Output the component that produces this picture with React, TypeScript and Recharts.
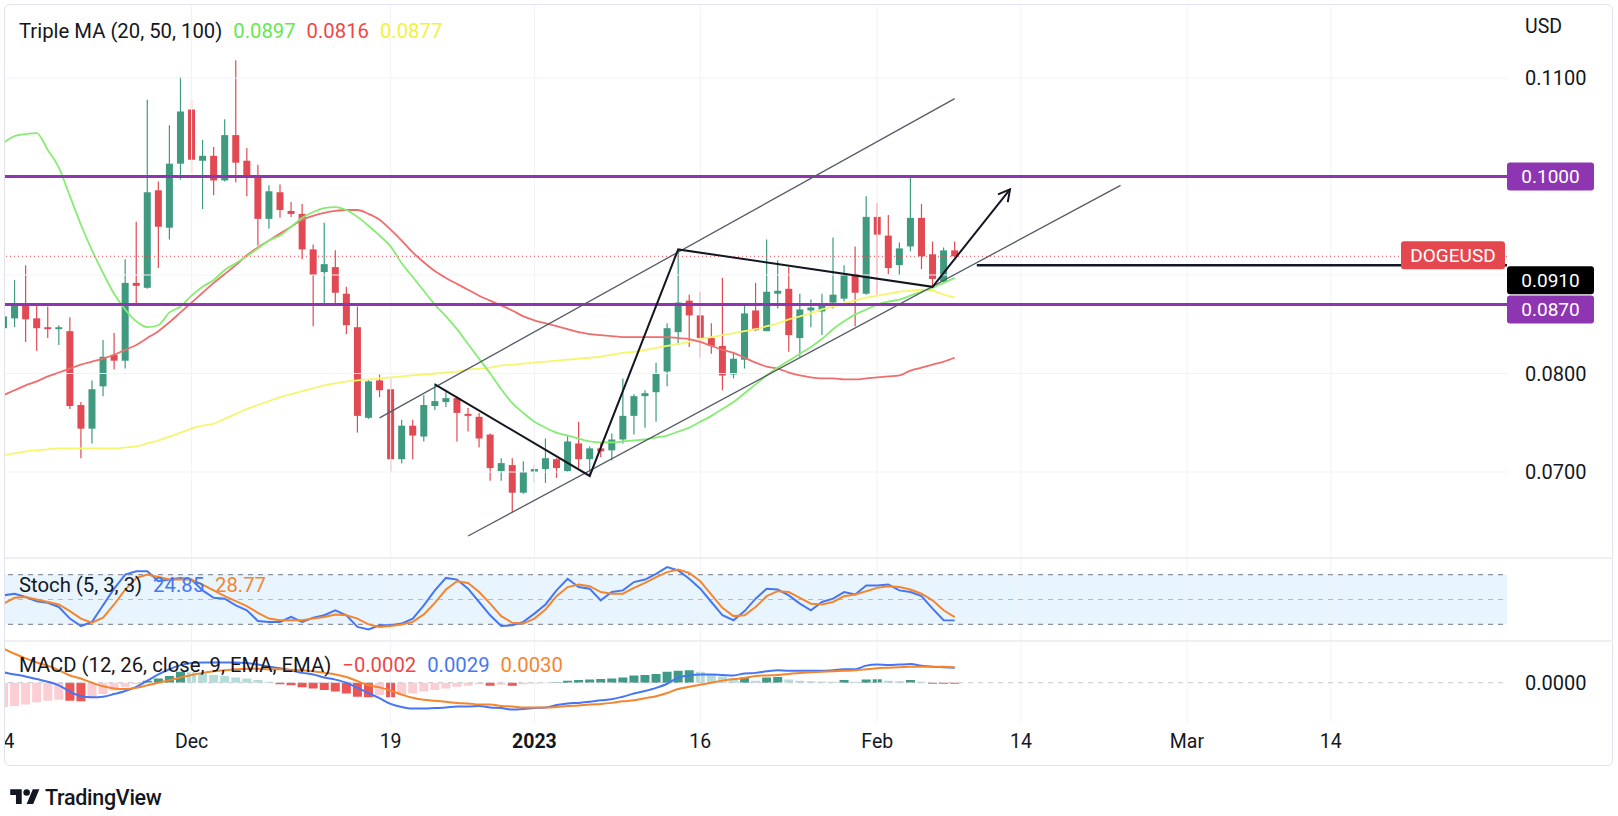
import React from 'react';
import { ComposedChart, Bar, Line, XAxis, YAxis, ReferenceLine, ReferenceArea, Cell } from 'recharts';

const FONT = 'Roboto, "Noto Sans", "DejaVu Sans", sans-serif';

// ---- candles (daily DOGEUSD, day 0 = 14 Nov 2022) ----
const opens = [0.0846,0.0856,0.0870,0.0856,0.0847,0.0845,0.0843,0.0768,0.0744,0.0787,
  0.0819,0.0813,0.0892,0.0887,0.0986,0.0948,0.1013,0.1068,0.1016,0.1021,
  0.0996,0.1042,0.1016,0.1000,0.0957,0.0984,0.0965,0.0962,0.0926,0.0903,
  0.0908,0.0881,0.0847,0.0755,0.0793,0.0784,0.0713,0.0747,0.0736,0.0767,
  0.0771,0.0775,0.0759,0.0756,0.0738,0.0701,0.0707,0.0679,0.0700,0.0703,
  0.0713,0.0701,0.0729,0.0713,0.0724,0.0722,0.0733,0.0757,0.0777,0.0781,
  0.0802,0.0842,0.0874,0.0859,0.0836,0.0828,0.0799,0.0814,0.0864,0.0843,
  0.0881,0.0886,0.0836,0.0864,0.0863,0.0872,0.0876,0.0901,0.0881,0.0959,
  0.0940,0.0910,0.0929,0.0958,0.0921,0.0893,0.0925];
const highs = [0.0866,0.0895,0.0910,0.0870,0.0868,0.0849,0.0857,0.0771,0.0793,0.0834,
  0.0841,0.0916,0.0954,0.1078,0.0995,0.1052,0.1101,0.1078,0.1037,0.1030,
  0.1058,0.1118,0.1029,0.1012,0.0991,0.0992,0.0974,0.0972,0.0931,0.0953,
  0.0925,0.0888,0.0868,0.0794,0.0799,0.0795,0.0753,0.0753,0.0778,0.0790,
  0.0781,0.0777,0.0765,0.0760,0.0739,0.0714,0.0714,0.0711,0.0707,0.0734,
  0.0714,0.0737,0.0751,0.0726,0.0730,0.0739,0.0795,0.0779,0.0783,0.0811,
  0.0851,0.0925,0.0880,0.0883,0.0851,0.0897,0.0822,0.0869,0.0892,0.0936,
  0.0915,0.0908,0.0881,0.0875,0.0881,0.0938,0.0910,0.0929,0.0980,0.0973,
  0.0961,0.0933,0.1001,0.0972,0.0934,0.0928,0.0934];
const lows = [0.0840,0.0847,0.0832,0.0823,0.0836,0.0829,0.0764,0.0714,0.0729,0.0777,
  0.0804,0.0805,0.0870,0.0886,0.0907,0.0936,0.0997,0.1003,0.0967,0.0981,
  0.0995,0.0994,0.0980,0.0930,0.0947,0.0958,0.0959,0.0916,0.0848,0.0870,
  0.0871,0.0840,0.0740,0.0754,0.0776,0.0700,0.0709,0.0713,0.0731,0.0763,
  0.0766,0.0731,0.0741,0.0725,0.0691,0.0691,0.0659,0.0678,0.0689,0.0689,
  0.0694,0.0700,0.0704,0.0695,0.0715,0.0712,0.0729,0.0738,0.0745,0.0751,
  0.0787,0.0829,0.0827,0.0816,0.0820,0.0783,0.0795,0.0805,0.0843,0.0843,
  0.0866,0.0822,0.0817,0.0847,0.0839,0.0866,0.0873,0.0848,0.0880,0.0880,
  0.0901,0.0900,0.0924,0.0906,0.0888,0.0892,0.0918];
const closes = [0.0858,0.0870,0.0855,0.0846,0.0845,0.0847,0.0767,0.0744,0.0784,0.0817,
  0.0813,0.0892,0.0889,0.0984,0.0949,0.1013,0.1066,0.1017,0.1021,0.0996,
  0.1042,0.1014,0.1000,0.0957,0.0985,0.0966,0.0962,0.0926,0.0900,0.0911,
  0.0882,0.0849,0.0757,0.0792,0.0783,0.0713,0.0747,0.0737,0.0768,0.0772,
  0.0775,0.0760,0.0757,0.0734,0.0704,0.0709,0.0679,0.0700,0.0703,0.0714,
  0.0704,0.0731,0.0713,0.0724,0.0721,0.0733,0.0757,0.0777,0.0780,0.0800,
  0.0846,0.0872,0.0859,0.0836,0.0828,0.0798,0.0815,0.0861,0.0844,0.0883,
  0.0884,0.0839,0.0865,0.0867,0.0871,0.0880,0.0900,0.0882,0.0959,0.0941,
  0.0907,0.0927,0.0958,0.0919,0.0896,0.0925,0.0919];

// ---- moving averages ----
const ma20 = [0.1034,0.1041,0.1043,0.1044,0.1027,0.1009,0.0980,0.0951,0.0925,0.0902,
  0.0881,0.0865,0.0853,0.0847,0.0849,0.0862,0.0868,0.0879,0.0888,0.0895,
  0.0905,0.0912,0.0919,0.0927,0.0935,0.0940,0.0949,0.0958,0.0964,0.0968,
  0.0969,0.0966,0.0959,0.0950,0.0940,0.0929,0.0912,0.0898,0.0884,0.0870,
  0.0858,0.0845,0.0830,0.0815,0.0800,0.0784,0.0770,0.0760,0.0751,0.0745,
  0.0740,0.0737,0.0734,0.0731,0.0730,0.0730,0.0731,0.0732,0.0733,0.0735,
  0.0737,0.0741,0.0745,0.0751,0.0757,0.0764,0.0771,0.0780,0.0789,0.0798,
  0.0806,0.0813,0.0820,0.0827,0.0835,0.0845,0.0853,0.0860,0.0865,0.0870,
  0.0873,0.0875,0.0879,0.0883,0.0887,0.0892,0.0897];
const ma50 = [0.0778,0.0783,0.0788,0.0792,0.0797,0.0801,0.0805,0.0809,0.0812,0.0815,
  0.0819,0.0824,0.0829,0.0836,0.0843,0.0852,0.0862,0.0872,0.0882,0.0892,
  0.0901,0.0910,0.0920,0.0928,0.0935,0.0942,0.0949,0.0956,0.0960,0.0963,
  0.0965,0.0966,0.0966,0.0962,0.0956,0.0946,0.0935,0.0923,0.0913,0.0904,
  0.0897,0.0891,0.0885,0.0879,0.0874,0.0869,0.0864,0.0858,0.0854,0.0851,
  0.0848,0.0845,0.0842,0.0840,0.0839,0.0838,0.0837,0.0837,0.0837,0.0837,
  0.0837,0.0836,0.0835,0.0832,0.0828,0.0824,0.0821,0.0816,0.0811,0.0807,
  0.0805,0.0801,0.0798,0.0796,0.0795,0.0795,0.0794,0.0794,0.0795,0.0796,
  0.0797,0.0798,0.0803,0.0806,0.0809,0.0812,0.0816];
const ma100 = [0.0717,0.0719,0.0721,0.0722,0.0723,0.0724,0.0724,0.0724,0.0724,0.0724,
  0.0724,0.0725,0.0726,0.0729,0.0732,0.0736,0.0740,0.0744,0.0747,0.0749,
  0.0754,0.0759,0.0764,0.0768,0.0772,0.0776,0.0779,0.0782,0.0785,0.0788,
  0.0790,0.0792,0.0793,0.0794,0.0795,0.0796,0.0797,0.0798,0.0799,0.0800,
  0.0801,0.0802,0.0804,0.0805,0.0806,0.0808,0.0809,0.0810,0.0811,0.0812,
  0.0813,0.0814,0.0815,0.0816,0.0817,0.0819,0.0821,0.0822,0.0824,0.0826,
  0.0828,0.0830,0.0832,0.0835,0.0837,0.0839,0.0841,0.0843,0.0845,0.0848,
  0.0851,0.0855,0.0858,0.0861,0.0865,0.0868,0.0871,0.0874,0.0877,0.0879,
  0.0881,0.0883,0.0884,0.0885,0.0884,0.0880,0.0877];

// ---- stochastic ----
const stochK = [55,57,53,48,46,41,27,18,23,43, 63,80,84,84,72,74,76,74,61,52,
  51,43,37,24,23,23,29,23,28,31, 37,31,17,14,19,19,21,27,43,61,
  76,74,63,47,31,18,19,23,33,44, 61,75,65,63,49,59,61,71,74,81,
  89,85,75,63,47,31,25,36,51,63, 62,55,45,37,47,51,59,56,67,67,
  68,61,59,54,39,25,24.85];
const stochD = [45,52,53,50,47,44,36,27,22,28, 44,62,76,80,77,74,74,74,68,61,
  54,48,42,34,27,25,25,25,27,29, 32,31,27,20,17,18,20,23,32,46,
  62,72,70,59,45,30,22,21,27,38, 54,65,68,66,59,57,57,64,70,77,
  83,86,82,72,56,40,30,31,41,54, 60,59,52,45,44,47,54,56,60,64,
  66,65,62,57,49,37,28.77];

// ---- MACD ----
const macdLine = [0.0020,0.0016,0.0012,0.0007,0.0002,-0.0005,-0.0017,-0.0026,-0.0028,-0.0027,
  -0.0022,-0.0016,-0.0008,0.0004,0.0016,0.0026,0.0034,0.0038,0.0039,0.0039,
  0.0039,0.0039,0.0038,0.0035,0.0031,0.0028,0.0024,0.0019,0.0016,0.0010,
  0.0006,0.0000,-0.0010,-0.0020,-0.0030,-0.0041,-0.0047,-0.0050,-0.0050,-0.0049,
  -0.0048,-0.0046,-0.0046,-0.0045,-0.0048,-0.0049,-0.0052,-0.0051,-0.0049,-0.0048,
  -0.0043,-0.0040,-0.0039,-0.0037,-0.0034,-0.0032,-0.0027,-0.0021,-0.0016,-0.0010,
  -0.0002,0.0010,0.0014,0.0016,0.0016,0.0015,0.0014,0.0018,0.0019,0.0022,
  0.0024,0.0023,0.0023,0.0023,0.0023,0.0024,0.0026,0.0026,0.0033,0.0035,
  0.0034,0.0035,0.0036,0.0033,0.0031,0.0030,0.0029];
const signalLine = [0.0066,0.0056,0.0047,0.0039,0.0033,0.0024,0.0014,0.0008,0.0000,-0.0007,
  -0.0011,-0.0012,-0.0010,-0.0005,0.0000,0.0005,0.0010,0.0015,0.0019,0.0022,
  0.0024,0.0026,0.0027,0.0027,0.0026,0.0026,0.0025,0.0024,0.0022,0.0019,
  0.0016,0.0011,0.0003,-0.0005,-0.0009,-0.0015,-0.0023,-0.0029,-0.0033,-0.0035,
  -0.0037,-0.0039,-0.0040,-0.0042,-0.0042,-0.0045,-0.0046,-0.0048,-0.0048,-0.0048,
  -0.0047,-0.0045,-0.0044,-0.0042,-0.0041,-0.0039,-0.0036,-0.0034,-0.0030,-0.0026,
  -0.0020,-0.0012,-0.0008,-0.0004,0.0000,0.0004,0.0007,0.0009,0.0013,0.0014,
  0.0015,0.0017,0.0019,0.0020,0.0021,0.0022,0.0023,0.0024,0.0026,0.0028,
  0.0029,0.0030,0.0031,0.0031,0.0031,0.0031,0.0030];
const macdHist = [-0.0047,-0.0045,-0.0042,-0.0038,-0.0035,-0.0033,-0.0035,-0.0036,-0.0030,-0.0022,
  -0.0015,-0.0008,-0.0003,0.0004,0.0008,0.0013,0.0021,0.0020,0.0018,0.0015,
  0.0013,0.0010,0.0008,0.0005,0.0002,-0.0003,-0.0005,-0.0009,-0.0011,-0.0014,
  -0.0017,-0.0021,-0.0027,-0.0028,-0.0024,-0.0028,-0.0024,-0.0021,-0.0017,-0.0014,
  -0.0011,-0.0008,-0.0006,-0.0003,-0.0006,-0.0004,-0.0006,-0.0003,-0.0002,-0.0001,
  0.0001,0.0004,0.0005,0.0006,0.0007,0.0008,0.0010,0.0014,0.0015,0.0017,
  0.0021,0.0023,0.0024,0.0021,0.0016,0.0012,0.0008,0.0010,0.0004,0.0010,
  0.0011,0.0006,0.0004,0.0003,0.00025,0.0002,0.0005,0.0002,0.0006,0.00065,
  0.0004,0.0003,0.0005,0.0002,-0.0002,-0.00021,-0.00022];

// ---- axes / annotations ----
const TOTAL_DAYS = 137;
const tickDays = [0, 17, 35, 48, 63, 79, 92, 107, 120];
const tickLabels = ['14', 'Dec', '19', '2023', '16', 'Feb', '14', 'Mar', '14'];
const yearLabels = ['2023'];
const priceTicks = [0.07, 0.08, 0.11];
const priceGrid = [0.07, 0.08, 0.09, 0.1, 0.11];
const levelLines = [0.1, 0.087];
const lastPrice = 0.0919;
const supportLevel = 0.091;
const upperChannel: [number, number][] = [[34, 0.0755], [86, 0.1079]];
const lowerChannel: [number, number][] = [[42, 0.0635], [101, 0.0991]];
const zigzag: [number, number][] = [[39, 0.0789], [53, 0.0696], [61, 0.0926], [84, 0.0888], [91, 0.0987]];
const supportSeg: [number, number][] = [[88, supportLevel], [136, supportLevel]];
const stochLevels = [80, 50, 20];

const MAIN_DOMAIN: [number, number] = [0.06127, 0.11741];
const MACD_DOMAIN: [number, number] = [-0.00779, 0.00787];

const UP = '#3f9a80';
const DOWN = '#e14a52';
const PURPLE = '#8e36b1';
const GRID = '#f0f3fa';
const BLUE = '#4776f4';
const ORANGE = '#f3862f';

const BAND = 11.06;
const PLOT_W = TOTAL_DAYS * BAND;
const CHART_LEFT = -6.53; // relative to pane wrapper at x=5

const mainData: any[] = Array.from({ length: TOTAL_DAYS }, (_, d) => {
  const r: any = { d };
  if (d < opens.length) {
    r.o = opens[d]; r.h = highs[d]; r.l = lows[d]; r.c = closes[d];
    r.range = [lows[d], highs[d]];
    r.ma20 = ma20[d]; r.ma50 = ma50[d]; r.ma100 = ma100[d];
  }
  return r;
});
const addPts = (key: string, pts: [number, number][]) => pts.forEach(([d, v]) => { mainData[d][key] = v; });
addPts('up', upperChannel);
addPts('lo', lowerChannel);
addPts('zz', zigzag);
addPts('sup', supportSeg);

const stochData = Array.from({ length: TOTAL_DAYS }, (_, d) => ({ d, k: stochK[d], dd: stochD[d] }));
const macdData = Array.from({ length: TOTAL_DAYS }, (_, d) => ({ d, m: macdLine[d], s: signalLine[d], h: macdHist[d] }));

const histColor = (i: number) => {
  const v = macdHist[i];
  const p = i > 0 ? macdHist[i - 1] : -Infinity;
  if (v >= 0) return v > p ? '#3f9a87' : '#b5ddd8';
  return v > p ? '#fccdd2' : '#ef5454';
};

const Candle = (props: any) => {
  const { x, y, width, height, payload } = props;
  if (!payload || payload.o == null) return <g />;
  const { o, h, l, c } = payload;
  const top = Math.min(y, y + height);
  const bot = Math.max(y, y + height);
  const k = (bot - top) / Math.max(h - l, 1e-9);
  const yOf = (v: number) => top + (h - v) * k;
  const color = c >= o ? UP : DOWN;
  const cx = x + width / 2;
  const bt = yOf(Math.max(o, c));
  const bb = yOf(Math.min(o, c));
  return (
    <g>
      <line x1={cx} x2={cx} y1={top} y2={bot} stroke={color} strokeWidth={1.2} />
      <rect x={cx - width / 2} y={bt} width={width} height={Math.max(1.5, bb - bt)} fill={color} />
    </g>
  );
};

let prevZig: { x: number; y: number } | null = null;
const firstZig = zigzag[0][0];
const lastZig = zigzag[zigzag.length - 1][0];
const ZigDot = (props: any) => {
  const { cx, cy, index, payload } = props;
  const key = `zd${index}`;
  if (cx == null || cy == null || !payload || payload.zz == null) return <g key={key} />;
  if (payload.d === firstZig) prevZig = null;
  const prev = prevZig;
  prevZig = { x: cx, y: cy };
  if (payload.d !== lastZig || !prev) return <g key={key} />;
  const ang = Math.atan2(cy - prev.y, cx - prev.x);
  const L = 13;
  const a1 = ang + Math.PI - 0.5;
  const a2 = ang + Math.PI + 0.5;
  return (
    <path key={key}
      d={`M${cx + L * Math.cos(a1)},${cy + L * Math.sin(a1)} L${cx},${cy} L${cx + L * Math.cos(a2)},${cy + L * Math.sin(a2)}`}
      stroke="#131722" strokeWidth={2} fill="none" />
  );
};

const makeTag = (text: string, bg: string, dy: number, w: number, xOff: number, fg = '#ffffff') => (props: any) => {
  const vb = props.viewBox || {};
  const x = (vb.x || 0) + (vb.width || 0) + xOff;
  const y = (vb.y || 0) + dy;
  return (
    <g>
      <rect x={x} y={y - 14} width={w} height={28} rx={3} fill={bg} />
      <text x={x + w / 2} y={y} dy="0.36em" textAnchor="middle" fill={fg} fontSize={19} fontFamily={FONT}>{text}</text>
    </g>
  );
};

const PriceTick = (props: any) => {
  const { x, y, payload } = props;
  return (
    <text x={x + 18} y={y} dy="0.36em" textAnchor="start" fill="#131722" fontSize={20} fontFamily={FONT}>
      {Number(payload.value).toFixed(4)}
    </text>
  );
};

const TimeTick = (props: any) => {
  const { x, y, payload } = props;
  const i = tickDays.indexOf(payload.value);
  const label = i >= 0 ? tickLabels[i] : '';
  const bold = yearLabels.includes(label);
  return (
    <text x={x} y={y + 18} dy="0.36em" textAnchor="middle" fill="#131722" fontSize={19.5}
      fontWeight={bold ? 700 : 400} fontFamily={FONT}>{label}</text>
  );
};

const noMargin = { top: 0, right: 0, bottom: 0, left: 0 };

const abs = (l: number, t: number, w: number, h: number, extra: any = {}) => ({
  position: 'absolute' as const, left: l, top: t, width: w, height: h, ...extra,
});

const Legend = ({ left, top, items }: { left: number; top: number; items: [string, string][] }) => (
  <div style={{ position: 'absolute', left, top, display: 'flex', gap: 11, fontSize: 20.3, fontFamily: FONT, whiteSpace: 'nowrap', lineHeight: '24px' }}>
    {items.map(([t, c], i) => <span key={i} style={{ color: c }}>{t}</span>)}
  </div>
);

export default function App() {
  return (
    <div style={abs(0, 0, 1618, 816, { background: '#ffffff', fontFamily: FONT, overflow: 'hidden' })}>
      {/* frame */}
      <div style={abs(4, 4, 1609, 762, { border: '1px solid #e0e3eb', borderRadius: 6, boxSizing: 'border-box' })} />

      {/* main pane */}
      <div style={abs(5, 5, 1502, 553, { overflow: 'hidden' })}>
        <div style={abs(CHART_LEFT, 0, PLOT_W, 553)}>
          <ComposedChart width={PLOT_W} height={553} data={mainData} margin={noMargin}>
            <XAxis dataKey="d" type="category" scale="band" hide />
            <YAxis type="number" domain={MAIN_DOMAIN} allowDataOverflow hide />
            {priceGrid.map((v) => <ReferenceLine key={`hg${v}`} y={v} stroke={GRID} strokeWidth={1} />)}
            {tickDays.map((d) => <ReferenceLine key={`vg${d}`} x={d} stroke={GRID} strokeWidth={1} />)}
            <Bar dataKey="range" barSize={7} shape={Candle} isAnimationActive={false} />
            <Line dataKey="ma100" type="monotone" stroke="#f6f56c" strokeWidth={1.8} dot={false} isAnimationActive={false} />
            <Line dataKey="ma50" type="monotone" stroke="#ef6d6d" strokeWidth={1.8} dot={false} isAnimationActive={false} />
            <Line dataKey="ma20" type="monotone" stroke="#86ec72" strokeWidth={1.8} dot={false} isAnimationActive={false} />
            <ReferenceLine y={lastPrice} stroke="#e5474f" strokeWidth={1} strokeDasharray="1 3" />
            {levelLines.map((v) => <ReferenceLine key={`lv${v}`} y={v} stroke={PURPLE} strokeWidth={3} />)}
            <Line dataKey="up" type="linear" connectNulls stroke="#555a66" strokeWidth={1.3} dot={false} isAnimationActive={false} />
            <Line dataKey="lo" type="linear" connectNulls stroke="#555a66" strokeWidth={1.3} dot={false} isAnimationActive={false} />
            <Line dataKey="sup" type="linear" connectNulls stroke="#131722" strokeWidth={2.5} dot={false} isAnimationActive={false} />
            <Line dataKey="zz" type="linear" connectNulls stroke="#131722" strokeWidth={2} dot={ZigDot} activeDot={false} isAnimationActive={false} />
          </ComposedChart>
        </div>
      </div>

      {/* price scale + tags */}
      <div style={abs(5, 5, 1608, 553)}>
        <ComposedChart width={1608} height={553} data={mainData} margin={noMargin}>
          <XAxis dataKey="d" type="category" scale="band" hide />
          <YAxis type="number" orientation="right" width={106} domain={MAIN_DOMAIN} allowDataOverflow
            ticks={priceTicks} interval={0} tick={PriceTick} axisLine={false} tickLine={false} tickSize={0} tickMargin={0} />
          <Line dataKey="c" stroke="none" dot={false} isAnimationActive={false} />
          <ReferenceLine y={levelLines[0]} stroke="none" label={makeTag('0.1000', PURPLE, 0, 87, 0)} />
          <ReferenceLine y={lastPrice} stroke="none" label={makeTag('DOGEUSD', '#e5474f', -1, 104, -106)} />
          <ReferenceLine y={supportLevel} stroke="none" label={makeTag('0.0910', '#000000', 15, 87, 0)} />
          <ReferenceLine y={levelLines[1]} stroke="none" label={makeTag('0.0870', PURPLE, 5, 87, 0)} />
        </ComposedChart>
      </div>

      <div style={abs(1525, 15, 60, 24, { fontSize: 19.5, color: '#131722', lineHeight: '24px' })}>USD</div>

      {/* stochastic pane */}
      <div style={abs(5, 558, 1502, 83, { overflow: 'hidden' })}>
        <div style={abs(CHART_LEFT, 0, PLOT_W, 83)}>
          <ComposedChart width={PLOT_W} height={83} data={stochData} margin={noMargin}>
            <XAxis dataKey="d" type="category" scale="band" hide />
            <YAxis type="number" domain={[0, 100]} allowDataOverflow hide />
            {tickDays.map((d) => <ReferenceLine key={`sv${d}`} x={d} stroke={GRID} strokeWidth={1} />)}
            <ReferenceArea y1={20} y2={80} fill="#2196f3" fillOpacity={0.1} stroke="none" />
            {stochLevels.map((v) => (
              <ReferenceLine key={`sl${v}`} y={v} stroke={v === 50 ? '#b8bbc4' : '#8f929b'} strokeWidth={1.2} strokeDasharray="5 5" />
            ))}
            <Line dataKey="k" type="linear" stroke={BLUE} strokeWidth={2} dot={false} isAnimationActive={false} />
            <Line dataKey="dd" type="linear" stroke={ORANGE} strokeWidth={2} dot={false} isAnimationActive={false} />
          </ComposedChart>
        </div>
      </div>

      {/* MACD pane + time axis */}
      <div style={abs(5, 642, 1502, 124, { overflow: 'hidden' })}>
        <div style={abs(CHART_LEFT, 0, PLOT_W, 124)}>
          <ComposedChart width={PLOT_W} height={124} data={macdData} margin={noMargin}>
            <XAxis dataKey="d" type="category" scale="band" height={43} ticks={tickDays} interval={0}
              tick={TimeTick} axisLine={false} tickLine={false} tickSize={0} tickMargin={0} />
            <YAxis type="number" domain={MACD_DOMAIN} allowDataOverflow hide />
            {tickDays.map((d) => <ReferenceLine key={`mv${d}`} x={d} stroke={GRID} strokeWidth={1} />)}
            <ReferenceLine y={0} stroke="#c5c8cf" strokeWidth={1} strokeDasharray="5 5" />
            <Bar dataKey="h" barSize={9} isAnimationActive={false}>
              {macdData.map((_, i) => <Cell key={`hc${i}`} fill={i < macdHist.length ? histColor(i) : 'none'} />)}
            </Bar>
            <Line dataKey="m" type="monotone" stroke={BLUE} strokeWidth={2} dot={false} isAnimationActive={false} />
            <Line dataKey="s" type="monotone" stroke={ORANGE} strokeWidth={2} dot={false} isAnimationActive={false} />
          </ComposedChart>
        </div>
      </div>

      {/* MACD price scale */}
      <div style={abs(5, 642, 1608, 81)}>
        <ComposedChart width={1608} height={81} data={macdData} margin={noMargin}>
          <XAxis dataKey="d" type="category" scale="band" hide />
          <YAxis type="number" orientation="right" width={106} domain={MACD_DOMAIN} allowDataOverflow
            ticks={[0]} interval={0} tick={PriceTick} axisLine={false} tickLine={false} tickSize={0} tickMargin={0} />
          <Line dataKey="m" stroke="none" dot={false} isAnimationActive={false} />
        </ComposedChart>
      </div>

      {/* pane separators */}
      <div style={abs(5, 557, 1608, 2, { background: '#eef0f4' })} />
      <div style={abs(5, 640, 1608, 2, { background: '#eef0f4' })} />

      {/* legends */}
      <Legend left={19} top={19} items={[['Triple MA (20, 50, 100)', '#131722'], ['0.0897', '#66e84e'], ['0.0816', '#ef4646'], ['0.0877', '#f2f23a']]} />
      <Legend left={19} top={573} items={[['Stoch (5, 3, 3)', '#131722'], ['24.85', BLUE], ['28.77', ORANGE]]} />
      <Legend left={19} top={653} items={[['MACD (12, 26, close, 9, EMA, EMA)', '#131722'], ['\u22120.0002', '#ef4646'], ['0.0029', BLUE], ['0.0030', ORANGE]]} />

      {/* TradingView mark */}
      <div style={abs(10, 784, 200, 26, { display: 'flex', alignItems: 'center', gap: 5 })}>
        <svg width={30} height={23} viewBox="0 0 36 28">
          <path d="M14 22H7V11H0V4h14v18zM28 22h-8l7.5-18h8L28 22z" fill="#131722" />
          <circle cx={20} cy={8} r={4} fill="#131722" />
        </svg>
        <span style={{ fontSize: 21.5, fontWeight: 500, color: '#131722', letterSpacing: -0.3 }}>TradingView</span>
      </div>
    </div>
  );
}
